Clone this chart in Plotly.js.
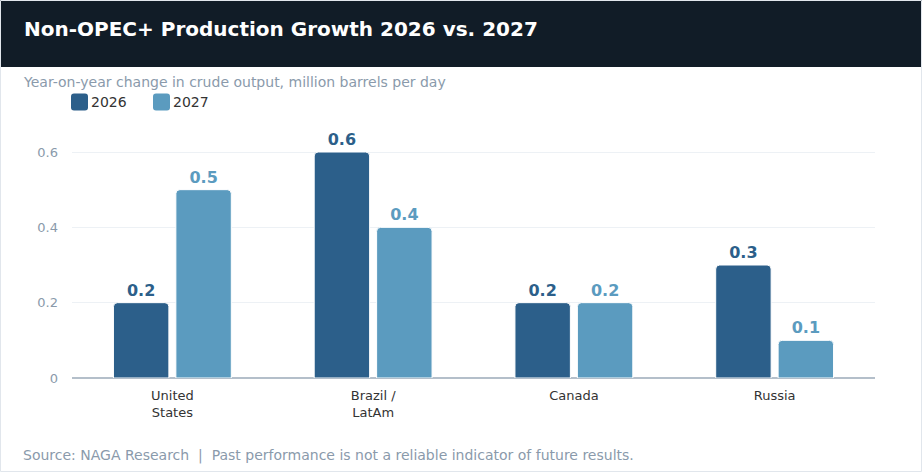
<!DOCTYPE html>
<html>
<head>
<meta charset="utf-8">
<script src="https://cdn.plot.ly/plotly-3.0.1.min.js"></script>
<style>
html,body{margin:0;padding:0;background:#fff;}
#chart{width:922px;height:472px;}
</style>
</head>
<body>
<div id="chart"></div>
<script>
const categories = ["United<br>States", "Brazil /<br>LatAm", "Canada", "Russia"];
const series2026 = [0.2, 0.6, 0.2, 0.3];
const series2027 = [0.5, 0.4, 0.2, 0.1];
const seriesNames = ["2026", "2027"];
const yTickVals = [0, 0.2, 0.4, 0.6];
const yTickText = ["0", "0.2", "0.4", "0.6"];

const W = 922, H = 472;
const mL = 72, mR = 47, mT = 120, mB = 94;
const pw = W - mL - mR, ph = H - mT - mB;
const px = X => (X - mL) / pw;
const py = Y => (H - mB - Y) / ph;

const colors = ["#2c5f8a", "#5b9bbf"];
const FONT = "DejaVu Sans, sans-serif";
const seriesData = [series2026, series2027];

const traces = seriesData.map((vals, i) => ({
  type: "bar", name: seriesNames[i], x: categories, y: vals,
  marker: {color: colors[i], cornerradius: 4, line: {color: "#ffffff", width: 1}},
  text: vals.map(v => v.toFixed(1)), textposition: "outside",
  textfont: {family: FONT, size: 16, color: colors[i], weight: "bold"},
  cliponaxis: false, hoverinfo: "skip", showlegend: false
}));

// manual legend (rounded swatches + labels)
function roundRect(x0, y0, x1, y1, r) {
  const X = v => px(v), Y = v => py(v);
  return `M${X(x0 + r)},${Y(y0)} L${X(x1 - r)},${Y(y0)} Q${X(x1)},${Y(y0)} ${X(x1)},${Y(y0 + r)} ` +
         `L${X(x1)},${Y(y1 - r)} Q${X(x1)},${Y(y1)} ${X(x1 - r)},${Y(y1)} L${X(x0 + r)},${Y(y1)} ` +
         `Q${X(x0)},${Y(y1)} ${X(x0)},${Y(y1 - r)} L${X(x0)},${Y(y0 + r)} Q${X(x0)},${Y(y0)} ${X(x0 + r)},${Y(y0)} Z`;
}
const legendX = [71, 153];
const legendY = 102;
const legendShapes = seriesNames.map((n, i) => ({
  type: "path", xref: "paper", yref: "paper",
  path: roundRect(legendX[i], legendY - 8.5, legendX[i] + 17, legendY + 8.5, 3),
  fillcolor: colors[i], line: {width: 0}
}));
const legendAnns = seriesNames.map((n, i) => ({
  text: n, xref: "paper", yref: "paper", x: px(legendX[i] + 18), y: py(legendY),
  xanchor: "left", yanchor: "middle", showarrow: false,
  font: {family: FONT, size: 14, color: "#333333"}
}));

const layout = {
  width: W, height: H,
  margin: {l: mL, r: mR, t: mT, b: mB, pad: 0},
  paper_bgcolor: "#ffffff", plot_bgcolor: "#ffffff",
  font: {family: FONT, size: 12, color: "#333333"},
  barmode: "group", bargap: 0.378, bargroupgap: 0.112,
  showlegend: false,
  title: {text: "<b>Non-OPEC+ Production Growth 2026 vs. 2027</b>",
    x: 24 / W, xref: "container", xanchor: "left",
    y: 1 - 29 / H, yref: "container", yanchor: "middle",
    font: {family: FONT, size: 20, color: "#ffffff"}},
  xaxis: {tickfont: {family: FONT, size: 13, color: "#333333"}, showgrid: false,
    showline: false, ticks: "", ticklabelstandoff: 8, fixedrange: true},
  yaxis: {range: [0, (H - mB - mT) / ((378 - 152) / 0.6)],
    tickvals: yTickVals, ticktext: yTickText,
    tickfont: {family: FONT, size: 13, color: "#8a9aab"},
    gridcolor: "#edf1f5", gridwidth: 1, zeroline: true, zerolinecolor: "#b4bfca",
    zerolinewidth: 2, showline: false, ticks: "", ticklabelstandoff: 13, fixedrange: true},
  shapes: [
    {type: "rect", xref: "paper", yref: "paper", x0: px(0), x1: px(W), y0: py(67), y1: py(0),
     fillcolor: "#111c27", line: {width: 0}, layer: "below"},
    {type: "rect", xref: "paper", yref: "paper", x0: px(0.5), x1: px(W - 0.5), y0: py(H - 0.5), y1: py(0.5),
     fillcolor: "rgba(0,0,0,0)", line: {width: 1, color: "#e1e6ec"}, layer: "below"}
  ].concat(legendShapes),
  annotations: [
    {text: "Year-on-year change in crude output, million barrels per day", xref: "paper", yref: "paper",
     x: px(21), y: py(82), xanchor: "left", yanchor: "middle", showarrow: false,
     font: {family: FONT, size: 14, color: "#8a9aab"}},
    {text: "Source: NAGA Research  |  Past performance is not a reliable indicator of future results.",
     xref: "paper", yref: "paper", x: px(21), y: py(455), xanchor: "left", yanchor: "middle", showarrow: false,
     font: {family: FONT, size: 14, color: "#8a9aab"}}
  ].concat(legendAnns)
};

Plotly.newPlot("chart", traces, layout, {displayModeBar: false, staticPlot: true});
</script>
</body>
</html>
